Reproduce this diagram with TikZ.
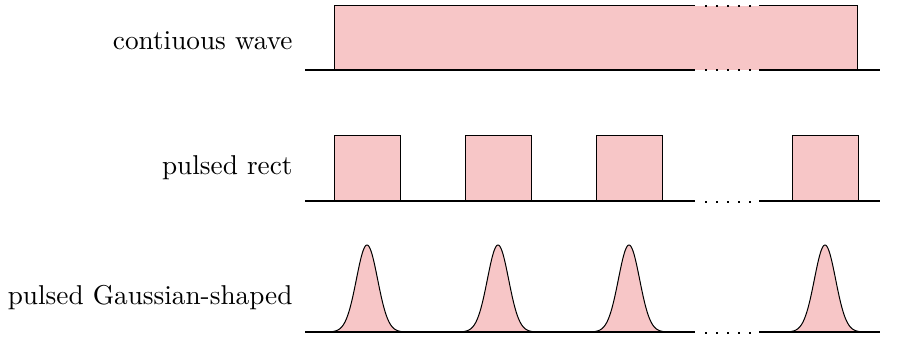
\documentclass[tikz,border=0pt]{standalone}
\definecolor{pulsefill}{RGB}{247,198,199}
\begin{document}
\begin{tikzpicture}[x=0.4pt,y=-0.4pt,
  pulse/.style={fill=pulsefill,draw=black,line width=0.4pt},
  base/.style={line width=0.55pt},
  gap/.style={line width=0.6pt,dash pattern=on 0.6pt off 3.8pt},
  lbl/.style={anchor=east,inner sep=0pt,font=\fontsize{10.9}{13}\selectfont}]
\useasboundingbox (0,0) rectangle (913,338);
% labels
\node[lbl] (l1) at (293,41) {contiuous wave};
\node[lbl] (l2) at (293,168) {pulsed rect};
\node[lbl] (l3) at (293,298) {pulsed Gaussian-shaped};
% row 1: continuous wave
\fill[pulsefill] (334,70) rectangle (857,6);
\draw[line width=0.4pt] (695,6) -- (334,6) -- (334,70);
\draw[line width=0.4pt] (759,6) -- (857,6) -- (857,70);
\draw[gap] (705,6) -- (755,6);
\draw[base] (305,70) -- (695,70);
\draw[gap] (705,70) -- (755,70);
\draw[base] (759,70) -- (880,70);
% row 2: rect pulses
\foreach \x in {334,465,596,792}
  \draw[pulse] (\x,201) rectangle ++(66,-65);
\draw[base] (305,201) -- (695,201);
\draw[gap] (705,202) -- (755,202);
\draw[base] (759,201) -- (880,201);
% row 3: Gaussian pulses
\foreach \c in {367,498,629,825}
  \draw[pulse] plot[domain=-34:34,samples=80,smooth] ({\c+\x},{332-87*exp(-(\x*\x)/(2*10.6*10.6))});
\draw[base] (305,332) -- (695,332);
\draw[gap] (705,333) -- (755,333);
\draw[base] (759,332) -- (880,332);
\end{tikzpicture}
\end{document}
